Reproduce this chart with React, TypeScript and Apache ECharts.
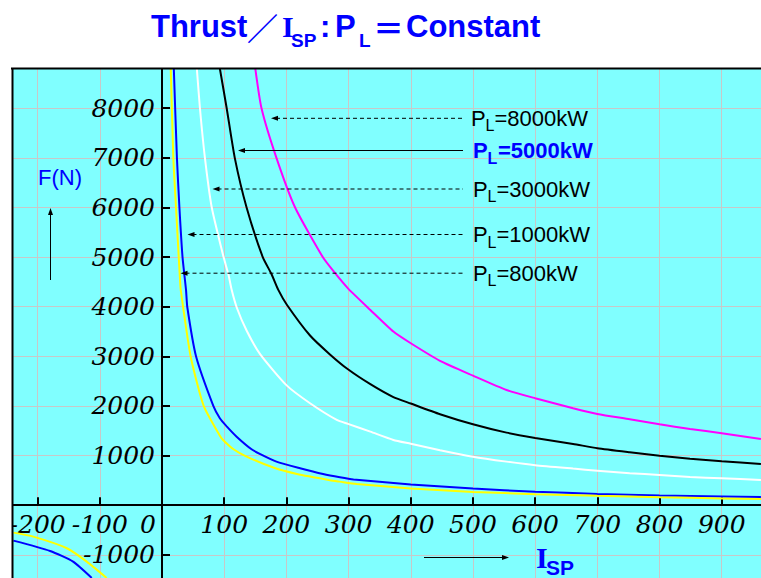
import React, { useEffect, useRef } from 'react';
import * as echarts from 'echarts';

// Thrust F (N) versus specific impulse Isp (s)
const curveP8000: number[][] = [
  [150, 8800], [160, 8000], [184, 7000], [214, 6000], [259, 4990], [278, 4680], [299, 4370],
  [335, 3935], [372, 3500], [400, 3264], [447, 2910], [500, 2612], [554, 2323], [600, 2156],
  [661, 1954], [700, 1840], [752, 1733], [800, 1632], [849, 1537], [900, 1451], [963, 1336],
];
const curveP5000: number[][] = [
  [93, 8800], [104, 8000], [117, 7000], [136, 6000], [162, 5000], [176, 4660], [187, 4340],
  [201, 4036], [238, 3420], [270, 3040], [299, 2740], [335, 2440], [372, 2180], [400, 2050],
  [447, 1835], [500, 1632], [554, 1463], [600, 1356], [661, 1235], [700, 1149], [752, 1068],
  [800, 999], [849, 935], [900, 887], [963, 832],
];
const curveP3000: number[][] = [
  [56, 8800], [61, 8000], [69, 7000], [80, 6000], [99, 5000], [107, 4640], [112, 4340],
  [120, 3990], [136, 3520], [158, 3040], [200, 2420], [238, 2055], [281, 1719], [299, 1640],
  [335, 1483], [372, 1316], [400, 1240], [447, 1110], [500, 979], [554, 879], [600, 806],
  [661, 738], [700, 697], [752, 645], [800, 611], [849, 570], [900, 544], [963, 510],
];
const curveP1000: number[][] = [
  [19, 8800], [24, 7000], [28, 6000], [33, 5000], [38.6, 4340], [40.7, 3990], [54.7, 3002],
  [82.5, 2001], [93, 1753], [104, 1590], [120, 1382], [144, 1128], [158, 1030], [184, 879],
  [222, 746], [259, 630], [286, 564], [308, 520], [400, 420], [500, 335], [600, 274],
  [700, 228], [800, 198], [900, 178], [963, 167],
];
const curveP800: number[][] = [
  [14, 8800], [18.2, 7000], [22.5, 6000], [26.9, 5000], [29, 4540], [30.1, 4340], [46, 3002],
  [67, 2001], [93, 1400], [98.6, 1310], [115, 1128], [136, 980], [179, 760], [217, 630],
  [270, 505], [286, 476], [313, 429], [400, 338], [500, 268], [600, 224], [700, 190],
  [800, 161], [900, 138], [963, 125],
];
// negative Isp branches (lower-left quadrant)
const negP1000: number[][] = [[-239, -713], [-180, -921], [-143, -1136], [-113, -1465]];
const negP800: number[][] = [[-239, -552], [-207, -633], [-153, -866], [-121, -1136], [-89, -1465]];

const powerValues = ['8000', '5000', '3000', '1000', '800'];
const curveColors = ['#ff00ff', '#000000', '#ffffff', '#0000ff', '#ffff00'];
const titleParts = ['Thrust', '／', 'I', 'SP', ':', 'P', 'L', '＝', 'Constant'];

const BLUE = '#0000ff';
const SANS = '"Liberation Sans", Arial, sans-serif';
const SERIF = '"Liberation Serif", serif';
const LABEL_SERIF = '"DejaVu Serif", serif';
const CJK = '"Noto Sans CJK SC", sans-serif';
const LABEL_SIZE = 25; // italic serif tick labels

function txt(text: string, x: number, y: number, o: any = {}) {
  return {
    type: 'text',
    x,
    y,
    z: 110,
    silent: true,
    style: {
      text,
      fill: o.color || '#000',
      fontSize: o.size || 22,
      fontWeight: o.weight || 'normal',
      fontStyle: o.style || 'normal',
      fontFamily: o.family || SANS,
      lineHeight: o.lineHeight,
      align: o.align || 'left',
      textAlign: o.align || 'left',
      verticalAlign: 'middle',
      textVerticalAlign: 'middle',
    },
  };
}

function arrowHead(tipX: number, tipY: number, dir: 'left' | 'right' | 'up', len = 7, half = 2.5) {
  let pts: number[][];
  if (dir === 'left') pts = [[tipX, tipY], [tipX + len, tipY - half], [tipX + len, tipY + half]];
  else if (dir === 'right') pts = [[tipX, tipY], [tipX - len, tipY - half], [tipX - len, tipY + half]];
  else pts = [[tipX, tipY], [tipX - half, tipY + len], [tipX + half, tipY + len]];
  return { type: 'polygon', z: 110, silent: true, shape: { points: pts }, style: { fill: '#000' } };
}

const annotations = [
  { y: 118.3, headX: 271, dashed: true, bold: false, color: '#000', textX: 471 },
  { y: 150.5, headX: 238, dashed: false, bold: true, color: BLUE, textX: 473 },
  { y: 189, headX: 212.5, dashed: true, bold: false, color: '#000', textX: 473 },
  { y: 234.5, headX: 187.5, dashed: true, bold: false, color: '#000', textX: 473 },
  { y: 273.2, headX: 180.5, dashed: true, bold: false, color: '#000', textX: 473 },
];

function buildGraphics() {
  const els: any[] = [];
  // white margins outside the plot frame
  els.push({ type: 'rect', z: 100, silent: true, shape: { x: 0, y: 0, width: 761, height: 68 }, style: { fill: '#fff' } });
  els.push({ type: 'rect', z: 100, silent: true, shape: { x: 0, y: 0, width: 12, height: 578 }, style: { fill: '#fff' } });
  els.push({ type: 'line', z: 105, silent: true, shape: { x1: 11, y1: 68.5, x2: 761, y2: 68.5 }, style: { stroke: '#000', lineWidth: 2 } });
  els.push({ type: 'line', z: 105, silent: true, shape: { x1: 12.5, y1: 68, x2: 12.5, y2: 578 }, style: { stroke: '#000', lineWidth: 2 } });

  // title
  const tMain = { color: BLUE, size: 31, weight: 'bold' };
  const tSub = { color: BLUE, size: 19, weight: 'bold' };
  els.push(txt(titleParts[0], 151, 26, tMain));
  els.push(txt(titleParts[1], 247, 26, { ...tMain, family: CJK }));
  els.push(txt(titleParts[2], 282, 26, { ...tMain, size: 30, family: SERIF }));
  els.push(txt(titleParts[3], 291, 40.5, tSub));
  els.push(txt(titleParts[4], 320, 26, tMain));
  els.push(txt(titleParts[5], 335, 26, tMain));
  els.push(txt(titleParts[6], 359, 40.5, tSub));
  els.push(txt(titleParts[7], 373, 26, { ...tMain, family: CJK }));
  els.push(txt(titleParts[8], 406, 26, tMain));

  // curve annotations
  annotations.forEach((a, i) => {
    els.push({
      type: 'line', z: 110, silent: true,
      shape: { x1: a.headX + 5, y1: a.y, x2: 463, y2: a.y },
      style: { stroke: '#000', lineWidth: 1, lineDash: a.dashed ? [4, 3] : null },
    });
    els.push(arrowHead(a.headX, a.y, 'left', 7, 2.5));
    const o = { color: a.color, size: 22, weight: a.bold ? 'bold' : 'normal' };
    els.push(txt('P', a.textX, a.y, o));
    els.push(txt('L', a.textX + 14.5, a.y + 7.5, { ...o, size: 16 }));
    els.push(txt('=' + powerValues[i] + 'kW', a.textX + (a.bold ? 25 : 23.5), a.y, o));
  });

  // F(N) axis caption with arrow
  els.push(txt('F(N)', 38, 177, { color: BLUE, size: 22 }));
  els.push({ type: 'line', z: 110, silent: true, shape: { x1: 50.5, y1: 280, x2: 50.5, y2: 213 }, style: { stroke: '#000', lineWidth: 1 } });
  els.push(arrowHead(50.5, 208, 'up', 7, 2.5));

  // Isp caption with arrow
  els.push({ type: 'line', z: 110, silent: true, shape: { x1: 424, y1: 557.5, x2: 503, y2: 557.5 }, style: { stroke: '#000', lineWidth: 1 } });
  els.push(arrowHead(509, 557.5, 'right', 7, 2.5));
  els.push(txt('I', 536, 557.5, { color: BLUE, size: 30, weight: 'bold', family: SERIF }));
  els.push(txt('SP', 546, 567.5, { color: BLUE, size: 21, weight: 'bold', lineHeight: 18 }));

  // origin label "0"
  els.push(txt('0', 156, 524.5, { size: LABEL_SIZE, style: 'italic', family: LABEL_SERIF, align: 'right', lineHeight: 24 }));
  return els;
}

// plot geometry: axis range spills past the window so the axes cross at (0, 0)
const GRID_LEFT = -24.57;
const GRID_TOP = 58.6;
const GRID_W = 808.5;
const GRID_H = 545.9;
const ZERO_X = 162;
const ZERO_Y = 505.3;

const axisFont = { fontFamily: LABEL_SERIF, fontStyle: 'italic', fontSize: LABEL_SIZE, lineHeight: 24, color: '#000' };
const splitLine = { show: true, lineStyle: { color: '#c8c8c8', width: 1 } };

const italicCss = `
.thrust-chart text[style*="${LABEL_SIZE}px"][style*="Serif"] { font-style: italic !important; font-synthesis: style weight !important; }
`;

export default function App() {
  const ref = useRef<HTMLDivElement>(null);
  useEffect(() => {
    if (!ref.current) return;
    const chart = echarts.init(ref.current, undefined, { renderer: 'svg' });
    const mk = (name: string, data: number[][], color: string) => ({
      type: 'line', name, data, showSymbol: false, symbol: 'none', clip: true,
      smooth: 0.2,
      lineStyle: { color, width: 2 }, itemStyle: { color },
    });
    const series = [
      mk('P_L=8000kW', curveP8000, curveColors[0]),
      mk('P_L=5000kW', curveP5000, curveColors[1]),
      mk('P_L=3000kW', curveP3000, curveColors[2]),
      mk('P_L=1000kW', curveP1000, curveColors[3]),
      mk('P_L=1000kW neg', negP1000, curveColors[3]),
      mk('P_L=800kW', curveP800, curveColors[4]),
      mk('P_L=800kW neg', negP800, curveColors[4]),
    ];
    // labels are laid out from the grid edge; shift them onto the zero lines
    const xLabelMargin = -((GRID_TOP + GRID_H) - ZERO_Y) + 7;
    const yLabelMargin = -(ZERO_X - GRID_LEFT) + 7;
    chart.setOption({
      animation: false,
      grid: {
        left: GRID_LEFT, top: GRID_TOP, width: GRID_W, height: GRID_H,
        show: true, backgroundColor: '#80ffff', borderWidth: 0,
        containLabel: false, outerBoundsMode: 'none',
      },
      xAxis: {
        type: 'value', min: -300, max: 1000, interval: 100,
        axisLine: { show: true, onZero: true, lineStyle: { color: '#000', width: 2 } },
        axisTick: { show: true, inside: true, length: 8, lineStyle: { color: '#000', width: 2 } },
        axisLabel: {
          ...axisFont, margin: xLabelMargin, showMinLabel: true, showMaxLabel: true,
          formatter: (v: number) => (v === 0 || v <= -300 || v >= 1000 ? '' : String(v)),
        },
        splitLine,
      },
      yAxis: {
        type: 'value', min: -2000, max: 9000, interval: 1000,
        axisLine: { show: true, onZero: true, lineStyle: { color: '#000', width: 2 } },
        axisTick: { show: true, inside: true, length: 8, lineStyle: { color: '#000', width: 2 } },
        axisLabel: {
          ...axisFont, margin: yLabelMargin, showMinLabel: true, showMaxLabel: true,
          formatter: (v: number) => (v === 0 || v >= 9000 || v <= -2000 ? '' : String(v)),
        },
        splitLine,
      },
      graphic: { elements: buildGraphics() },
      series,
    });
    return () => chart.dispose();
  }, []);
  return (
    <>
      <style>{italicCss}</style>
      <div ref={ref} className="thrust-chart" style={{ position: 'absolute', left: 0, top: 0, width: 761, height: 578 }} />
    </>
  );
}
